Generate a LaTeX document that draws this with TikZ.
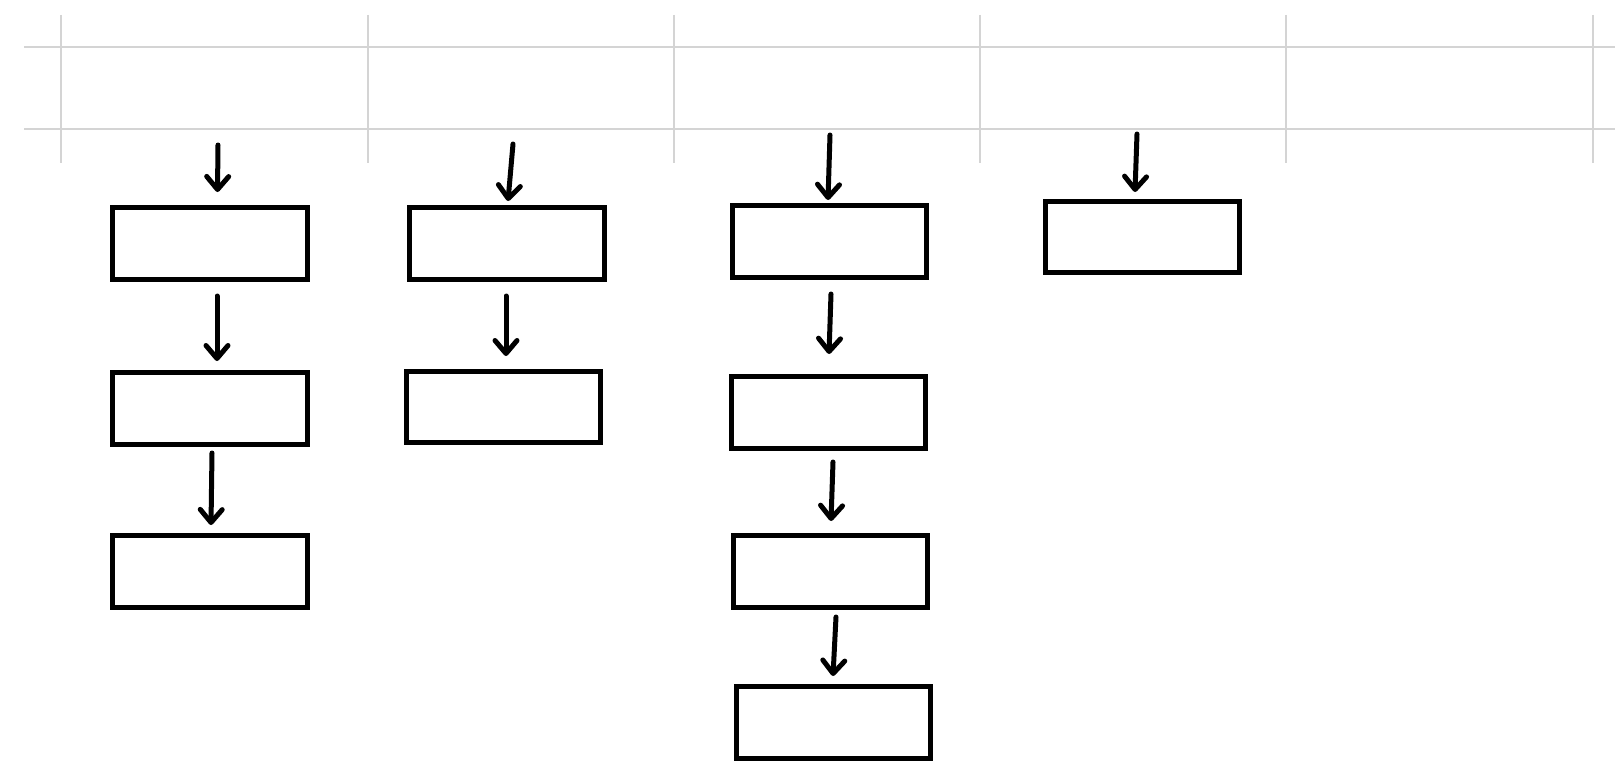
\documentclass[tikz,border=0pt]{standalone}
\usetikzlibrary{arrows.meta}
\definecolor{gridgray}{RGB}{212,212,212}
\begin{document}
\begin{tikzpicture}[x=1pt,y=-1pt,
  gridline/.style={draw=gridgray,line width=2pt},
  stepbox/.style={draw=black,line width=4.6pt,rectangle,minimum width=194.5pt,minimum height=71.5pt,inner sep=0pt,outer sep=0pt},
  flow/.style={draw=black,line width=5pt,line cap=round,-{Straight Barb[length=13pt,width=22pt,round]}}]
\useasboundingbox (0,0) rectangle (1615,784);
% grid
\draw[gridline] (24,46.7) -- (1615,46.7);
\draw[gridline] (24,128.7) -- (1615,128.7);
\foreach \gx in {61,368,674,980,1286,1593}
  \draw[gridline] (\gx,15) -- (\gx,163);
% boxes
\node[stepbox] (b11) at (210,243.5) {};
\node[stepbox] (b12) at (210,408.5) {};
\node[stepbox] (b13) at (210,571.5) {};
\node[stepbox] (b21) at (507,243.5) {};
\node[stepbox] (b22) at (503.5,407) {};
\node[stepbox] (b31) at (829.5,241.5) {};
\node[stepbox] (b32) at (828.5,412.5) {};
\node[stepbox] (b33) at (830.5,571.5) {};
\node[stepbox] (b34) at (833.5,722.5) {};
\node[stepbox] (b41) at (1142.5,237) {};
% arrow end points
\coordinate (s10) at (218,145);   \coordinate (t10) at (217.5,192);
\coordinate (s11) at (217,296);   \coordinate (t11) at (217,361);
\coordinate (s12) at (212,453);   \coordinate (t12) at (211,525);
\coordinate (s20) at (513,144);   \coordinate (t20) at (508,201);
\coordinate (s21) at (506,296);   \coordinate (t21) at (506,356);
\coordinate (s30) at (830,135);   \coordinate (t30) at (828,200);
\coordinate (s31) at (831,294);   \coordinate (t31) at (829,354);
\coordinate (s32) at (833,462);   \coordinate (t32) at (831,521);
\coordinate (s33) at (836,617);   \coordinate (t33) at (833,676);
\coordinate (s40) at (1137,134);  \coordinate (t40) at (1135,192);
% arrows
\foreach \a in {10,11,12,20,21,30,31,32,33,40}
  \draw[flow] (s\a) -- (t\a);
\end{tikzpicture}
\end{document}
